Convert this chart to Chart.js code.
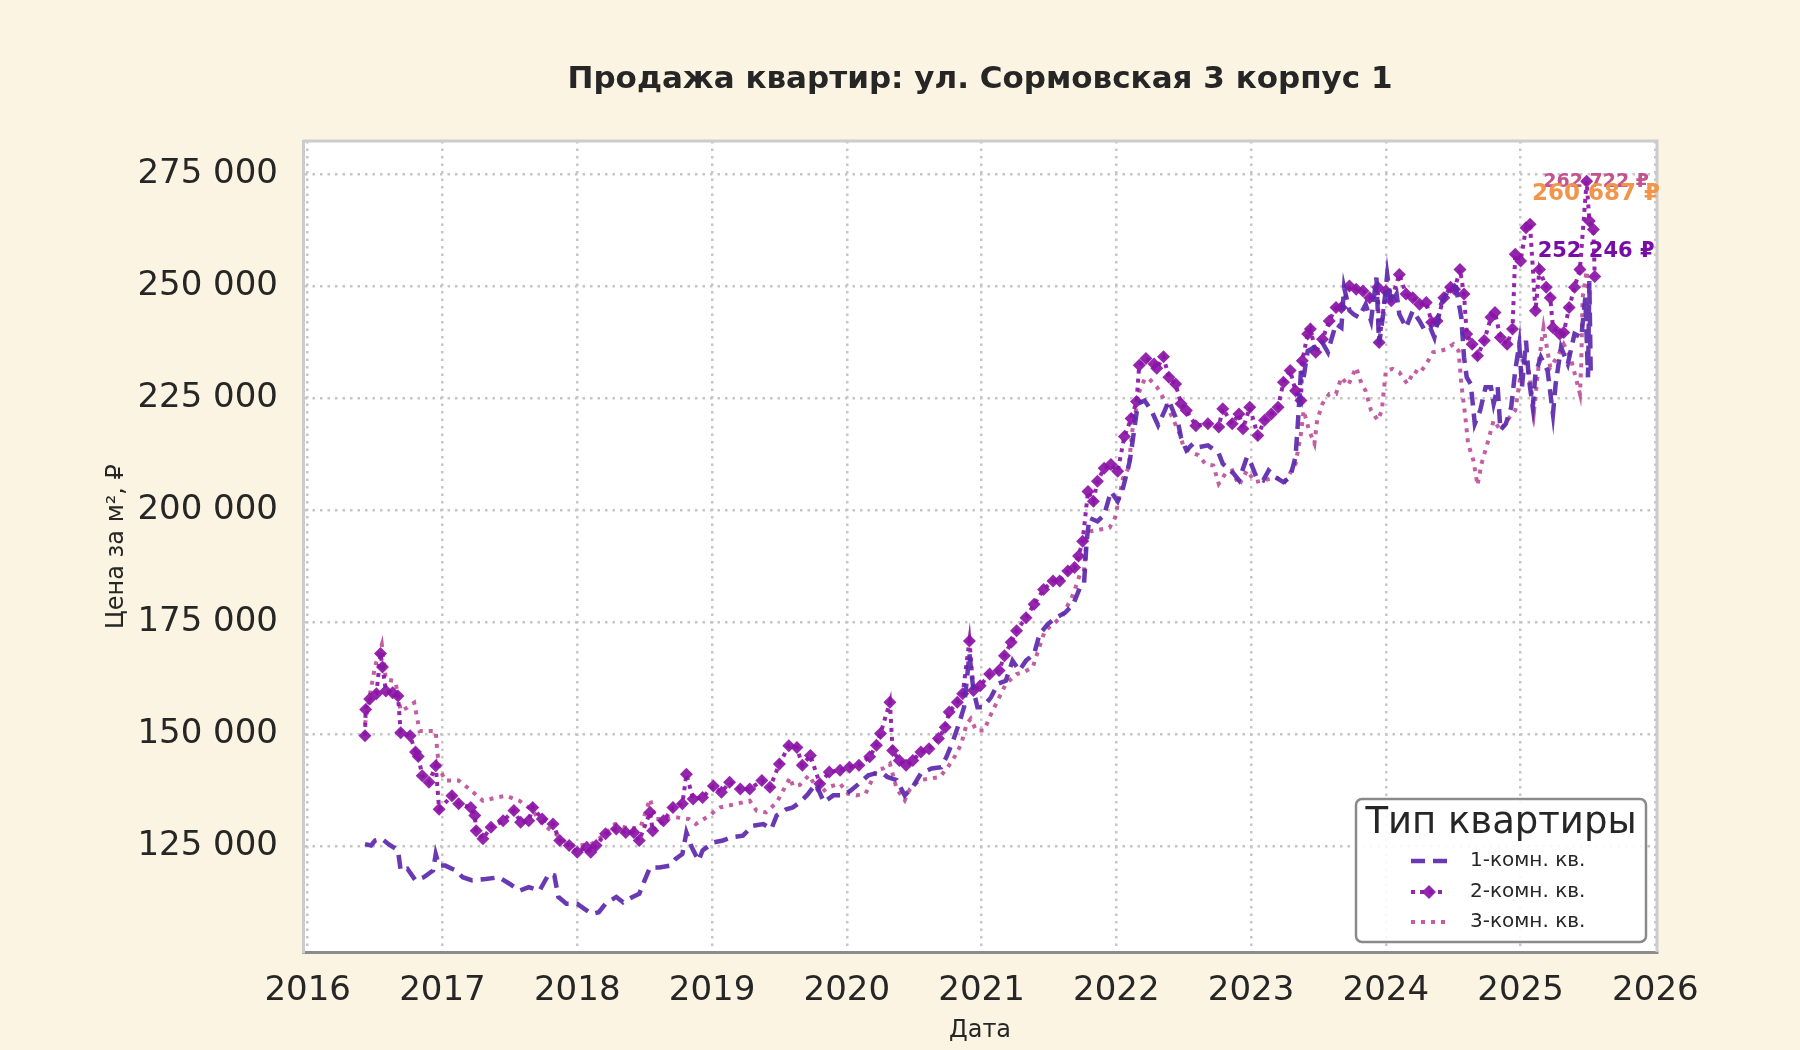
<!DOCTYPE html>
<html lang="ru">
<head>
<meta charset="utf-8">
<title>Продажа квартир: ул. Сормовская 3 корпус 1</title>
<script src="https://cdn.jsdelivr.net/npm/chart.js@4.4.1/dist/chart.umd.min.js"></script>
<style>
  html, body { margin:0; padding:0; background:#fbf4e2; }
  #wrap { width:1800px; height:1050px; position:relative; }
</style>
</head>
<body>
<div id="wrap"><canvas id="priceChart"></canvas></div>
<script>
// --- data (decimal year, руб/м²) ---
const years1 = [2016.425,2016.47,2016.50,2016.55,2016.60,2016.67,2016.69,2016.74,2016.80,2016.86,2016.93,2016.95,2016.975,
  2017.02,2017.10,2017.15,2017.22,2017.32,2017.42,2017.50,2017.57,2017.64,2017.72,2017.79,2017.83,2017.86,2017.92,
  2018.00,2018.05,2018.11,2018.16,2018.21,2018.29,2018.34,2018.41,2018.46,2018.50,2018.54,2018.61,2018.69,2018.73,2018.78,2018.81,2018.85,2018.90,2018.93,
  2019.01,2019.08,2019.14,2019.23,2019.30,2019.38,2019.44,2019.48,2019.55,2019.60,2019.65,2019.71,2019.77,2019.83,2019.90,2019.97,
  2020.03,2020.09,2020.16,2020.21,2020.27,2020.30,2020.37,2020.43,2020.49,2020.55,2020.63,2020.70,2020.74,2020.79,2020.84,2020.87,2020.91,2020.94,2020.97,
  2021.01,2021.07,2021.12,2021.18,2021.23,2021.28,2021.33,2021.39,2021.43,2021.49,2021.55,2021.62,2021.68,2021.73,2021.76,2021.78,2021.80,2021.86,2021.91,2021.96,
  2022.01,2022.05,2022.10,2022.16,2022.21,2022.26,2022.31,2022.36,2022.39,2022.46,2022.48,2022.52,2022.57,2022.61,2022.68,2022.76,2022.79,2022.83,2022.87,2022.91,2022.97,
  2023.00,2023.04,2023.09,2023.13,2023.18,2023.24,2023.29,2023.33,2023.35,2023.37,2023.39,2023.42,2023.47,2023.52,2023.57,2023.60,2023.63,2023.67,2023.69,2023.73,2023.76,2023.80,2023.85,2023.89,2023.93,2023.95,2023.98,
  2024.01,2024.04,2024.08,2024.10,2024.15,2024.20,2024.25,2024.29,2024.33,2024.36,2024.41,2024.46,2024.49,2024.52,2024.56,2024.58,2024.60,2024.63,2024.66,2024.70,2024.74,2024.78,2024.80,2024.83,2024.85,2024.89,2024.93,2024.96,2024.99,
  2025.01,2025.04,2025.06,2025.09,2025.11,2025.15,2025.20,2025.24,2025.26,2025.30,2025.35,2025.40,2025.45,2025.48,2025.50,2025.51,2025.52];
const price1 = [125400,125100,126200,126600,125400,124000,119500,119900,117300,118000,119500,123200,120600,
  120600,119500,118000,117300,117600,118000,116500,115000,115800,115000,118800,118400,113600,112100,
  112100,111000,109800,110200,112100,113600,112400,113600,114300,117300,120200,120200,120600,122100,123200,128000,124700,121700,124000,
  125800,126200,126900,127300,129500,129900,128800,131800,133200,133600,134700,136500,138900,134800,136300,136300,
  137400,138900,140800,141200,141200,140400,139700,136300,138200,141200,142300,142600,144900,148600,153000,156000,167900,159700,156000,
  156000,158200,161200,161900,166400,164200,166400,167900,172300,174500,176000,177100,179000,182700,183400,193100,198300,197500,199000,204200,
  202000,205000,211000,223800,224500,222300,219000,222300,224500,219300,216300,213400,214900,214100,214500,212700,210400,209300,208200,206700,211900,
  210400,207400,206700,208900,207400,206300,207400,211900,220800,231200,229700,235600,236400,237900,235300,238600,241600,240800,249800,244600,243800,243100,246000,242300,252000,237100,243800,
  252700,246000,248300,243800,240800,244600,242300,240100,240800,238600,246000,249000,249800,249800,243100,234200,229700,228200,219300,222300,227500,227500,223800,227500,217900,219300,223000,231200,237100,
  227500,237900,229700,223000,230500,234200,231200,221500,228200,236400,232700,239400,238600,247500,229700,251200,231000];

const years2 = [2016.425,2016.43,2016.46,2016.51,2016.54,2016.555,2016.58,2016.63,2016.67,2016.69,2016.76,2016.80,2016.82,2016.85,2016.90,2016.95,2016.975,
  2017.07,2017.12,2017.21,2017.24,2017.25,2017.30,2017.36,2017.45,2017.53,2017.58,2017.64,2017.67,2017.74,2017.82,2017.87,2017.94,
  2018.00,2018.07,2018.10,2018.14,2018.21,2018.29,2018.36,2018.42,2018.46,2018.54,2018.56,2018.64,2018.71,2018.78,2018.81,2018.86,2018.93,
  2019.01,2019.07,2019.13,2019.21,2019.28,2019.37,2019.43,2019.50,2019.57,2019.63,2019.67,2019.73,2019.80,2019.87,2019.95,
  2020.02,2020.09,2020.17,2020.22,2020.25,2020.32,2020.34,2020.39,2020.44,2020.49,2020.55,2020.61,2020.68,2020.73,2020.76,2020.82,2020.86,2020.91,2020.94,2020.99,
  2021.06,2021.13,2021.17,2021.22,2021.26,2021.33,2021.39,2021.46,2021.53,2021.58,2021.64,2021.69,2021.72,2021.75,2021.79,2021.83,2021.86,2021.91,2021.96,
  2022.01,2022.06,2022.11,2022.15,2022.17,2022.22,2022.28,2022.30,2022.35,2022.39,2022.44,2022.48,2022.52,2022.59,2022.68,2022.76,2022.79,2022.86,2022.91,2022.94,2022.99,
  2023.05,2023.10,2023.15,2023.20,2023.24,2023.29,2023.33,2023.37,2023.38,2023.42,2023.44,2023.48,2023.53,2023.58,2023.63,2023.67,2023.73,2023.78,2023.83,2023.88,2023.94,2023.95,
  2024.00,2024.04,2024.10,2024.15,2024.20,2024.25,2024.30,2024.34,2024.38,2024.43,2024.48,2024.51,2024.55,2024.58,2024.60,2024.64,2024.68,2024.73,2024.78,2024.81,2024.85,2024.90,2024.94,2024.96,
  2025.00,2025.04,2025.07,2025.11,2025.14,2025.19,2025.22,2025.24,2025.29,2025.32,2025.36,2025.40,2025.44,2025.49,2025.51,2025.54,2025.55];
const price2 = [149600,155500,157800,159000,168000,165000,159600,159200,158500,150300,149600,146000,145000,140700,139200,142900,133200,
  136200,134400,133600,131800,128400,126600,129200,130600,132900,130300,130600,133600,131000,129900,126200,125100,
  123600,124700,123600,125100,127700,128800,128000,128000,126200,132500,128400,130600,133600,134400,141000,135500,135800,
  138400,137000,139200,137700,137700,139600,138100,143300,147400,147000,143000,145200,138900,141500,141900,
  142600,143000,144900,147500,150100,157100,146300,144100,143000,144100,146000,146700,149000,151500,154900,157100,159000,170800,159700,160800,
  163400,164200,167500,170500,173100,176000,179000,182300,184200,184200,186400,187200,189800,193100,204200,202000,206500,209400,210200,
  208700,216500,220500,224300,232400,233900,232700,231700,234300,229700,228200,223800,222300,218900,219300,218600,222700,219300,221500,218200,223000,
  216700,220100,221500,223000,228600,231200,226700,224500,233400,239400,240500,235300,238200,242300,245300,245300,250100,249400,249000,247500,249800,237500,
  249000,246800,252700,248300,247500,246000,246400,242000,242300,247500,249800,249400,253800,248300,239400,237100,234500,237900,243100,244200,238600,237100,240500,257200,
  255700,263100,263900,244600,253800,249800,247500,240800,239400,239700,245300,249800,253800,273500,264600,262700,252200];

const years3 = [2016.425,2016.46,2016.50,2016.55,2016.58,2016.65,2016.69,2016.74,2016.79,2016.83,2016.88,2016.95,2016.96,2016.975,
  2017.02,2017.12,2017.20,2017.30,2017.40,2017.47,2017.57,2017.67,2017.74,2017.84,2017.94,
  2018.02,2018.11,2018.21,2018.28,2018.39,2018.47,2018.54,2018.58,2018.66,2018.73,2018.83,2018.88,2018.96,
  2019.06,2019.18,2019.28,2019.33,2019.40,2019.48,2019.58,2019.60,2019.65,2019.72,2019.80,2019.87,2019.95,
  2020.01,2020.07,2020.14,2020.22,2020.27,2020.32,2020.37,2020.43,2020.47,2020.54,2020.61,2020.69,2020.75,2020.80,2020.85,2020.89,2020.92,2020.96,
  2021.02,2021.06,2021.12,2021.18,2021.26,2021.31,2021.38,2021.42,2021.47,2021.53,2021.60,2021.68,2021.73,2021.76,2021.78,2021.81,2021.88,2021.95,2021.99,
  2022.02,2022.05,2022.09,2022.12,2022.17,2022.21,2022.24,2022.28,2022.30,2022.36,2022.42,2022.47,2022.50,2022.55,2022.61,2022.66,2022.72,2022.76,2022.81,2022.86,2022.91,2022.97,
  2023.03,2023.10,2023.18,2023.25,2023.33,2023.37,2023.39,2023.43,2023.47,2023.49,2023.53,2023.58,2023.63,2023.67,2023.72,2023.78,2023.82,2023.85,2023.89,2023.94,2023.97,
  2024.00,2024.05,2024.10,2024.16,2024.21,2024.25,2024.30,2024.35,2024.40,2024.45,2024.50,2024.54,2024.56,2024.59,2024.61,2024.65,2024.68,2024.71,2024.76,2024.80,2024.85,2024.90,2024.96,2024.99,
  2025.02,2025.06,2025.10,2025.14,2025.17,2025.22,2025.27,2025.32,2025.37,2025.44,2025.45,2025.46,2025.49,2025.50,2025.52];
const price3 = [152200,158500,165200,170000,162200,161800,155200,155900,157000,150700,150700,150700,146600,142500,
  139600,139600,137700,135100,135800,136200,135100,132900,129900,127700,125100,
  125100,125500,127700,129900,128800,129200,135500,131000,131000,131400,131000,129900,131400,
  133600,134400,135100,132900,132500,134700,140300,138400,138600,140800,136700,138200,138900,
  136700,136300,136700,141900,142300,143400,137800,135200,137800,139700,140000,140400,142600,144900,147800,152300,153400,150800,
  150800,153800,157500,161200,163400,163800,164900,168600,173100,174500,176400,181200,185700,186400,193800,195300,195700,196100,198300,
  202700,207200,209400,218000,226500,229300,229500,228200,227600,224500,220400,217100,214100,213000,212300,210400,210000,205900,208200,208900,205600,208900,
  206300,206700,207400,206300,210400,217100,222300,217900,214900,220100,223800,226000,226000,229700,227900,231900,228200,226700,222300,220100,222300,
  231200,231600,230800,228200,231200,230500,232700,235300,235600,236000,237100,235600,228200,220800,214900,211100,205600,210400,215600,220100,217900,220100,222300,228200,
  234200,231200,222300,234200,240800,231900,234200,237100,234200,226000,232700,247500,253500,249800,248300];

const seriesNames = ['1-комн. кв.', '2-комн. кв.', '3-комн. кв.'];
const yearTicks  = [2016,2017,2018,2019,2020,2021,2022,2023,2024,2025,2026];
const priceTicks = [125000,150000,175000,200000,225000,250000,275000];

// last-value callouts (text, anchor year, anchor price)
const calloutTexts  = ['262 722 ₽', '260 687 ₽', '252 246 ₽'];
const calloutYears  = [2025.56, 2025.56, 2025.56];
const calloutPrices = [273300, 270700, 257700];

const FONT = '"DejaVu Sans", "Liberation Sans", sans-serif';
const INK = '#262626';
const C1 = 'rgba(92,40,172,0.92)';
const C2 = 'rgba(139,20,166,0.92)';
const C3 = 'rgba(186,72,148,0.88)';
const calloutStyle = [
  { color: 'rgba(190,64,130,0.9)', size: 19 },
  { color: '#f0954a',              size: 23 },
  { color: '#7a0ca6',              size: 21 },
];

const toPoints = (xs, ys) => xs.map((x, i) => ({ x, y: ys[i] }));
const fmtPrice = v => String(v).replace(/\B(?=(\d{3})+(?!\d))/g, ' ');

// cream page, white plot area
const backdrop = {
  id: 'backdrop',
  beforeDraw(chart) {
    const { ctx, chartArea: a } = chart;
    ctx.save();
    ctx.fillStyle = '#fbf4e2';
    ctx.fillRect(0, 0, chart.width, chart.height);
    ctx.fillStyle = '#ffffff';
    ctx.fillRect(a.left, a.top, a.right - a.left, a.bottom - a.top);
    ctx.restore();
  }
};

// frame, title, callouts, legend box
const overlay = {
  id: 'overlay',
  afterDraw(chart) {
    const { ctx, chartArea: a, scales } = chart;
    ctx.save();

    // top + right spines
    ctx.strokeStyle = '#cccccc';
    ctx.lineWidth = 3;
    ctx.beginPath();
    ctx.moveTo(a.left, a.top);
    ctx.lineTo(a.right, a.top);
    ctx.lineTo(a.right, a.bottom);
    ctx.stroke();

    // title
    ctx.fillStyle = INK;
    ctx.font = 'bold 31px ' + FONT;
    ctx.textAlign = 'center';
    ctx.textBaseline = 'middle';
    ctx.fillText('Продажа квартир: ул. Сормовская 3 корпус 1', (a.left + a.right) / 2, 80);

    // callouts
    calloutTexts.forEach((t, i) => {
      ctx.font = 'bold ' + calloutStyle[i].size + 'px ' + FONT;
      ctx.fillStyle = calloutStyle[i].color;
      ctx.fillText(t, scales.x.getPixelForValue(calloutYears[i]), scales.y.getPixelForValue(calloutPrices[i]));
    });

    // legend
    const bx = 1356, by = 799, bw = 290, bh = 143;
    ctx.beginPath();
    ctx.roundRect(bx, by, bw, bh, 6);
    ctx.fillStyle = 'rgba(255,255,255,0.88)';
    ctx.fill();
    ctx.strokeStyle = '#8a8a8a';
    ctx.lineWidth = 2.5;
    ctx.stroke();

    ctx.fillStyle = INK;
    ctx.font = '37px ' + FONT;
    ctx.fillText('Тип квартиры', bx + bw / 2, 823);

    const rows = [861, 892, 922];
    const x0 = 1411, x1 = 1447;
    const styles = [
      { c: C1, dash: [14, 8], w: 4.5 },
      { c: C2, dash: [4, 5], w: 4 },
      { c: C3, dash: [4, 6], w: 4 },
    ];
    rows.forEach((ry, i) => {
      ctx.strokeStyle = styles[i].c;
      ctx.lineWidth = styles[i].w;
      ctx.setLineDash(styles[i].dash);
      ctx.beginPath();
      ctx.moveTo(x0, ry);
      ctx.lineTo(x1, ry);
      ctx.stroke();
      ctx.setLineDash([]);
      if (i === 1) {
        const cx = (x0 + x1) / 2;
        ctx.fillStyle = C2;
        ctx.beginPath();
        ctx.moveTo(cx, ry - 7);
        ctx.lineTo(cx + 7, ry);
        ctx.lineTo(cx, ry + 7);
        ctx.lineTo(cx - 7, ry);
        ctx.closePath();
        ctx.fill();
      }
      ctx.fillStyle = INK;
      ctx.font = '20px ' + FONT;
      ctx.textAlign = 'left';
      ctx.fillText(seriesNames[i], 1470, ry);
      ctx.textAlign = 'center';
    });

    ctx.restore();
  }
};

const gridOpts = { color: '#c6c6c6', lineWidth: 2.5, drawTicks: false };

new Chart(document.getElementById('priceChart'), {
  type: 'line',
  data: {
    datasets: [
      {
        label: seriesNames[0],
        data: toPoints(years1, price1),
        borderColor: C1,
        borderWidth: 4.5,
        borderDash: [14, 8],
        pointRadius: 0,
        tension: 0,
      },
      {
        label: seriesNames[1],
        data: toPoints(years2, price2),
        borderColor: C2,
        backgroundColor: C2,
        borderWidth: 4,
        borderDash: [4, 5],
        pointStyle: 'rectRot',
        pointRadius: 6.5,
        pointBorderWidth: 0,
        tension: 0,
      },
      {
        label: seriesNames[2],
        data: toPoints(years3, price3),
        borderColor: C3,
        borderWidth: 4,
        borderDash: [4, 6],
        pointRadius: 0,
        tension: 0,
      },
    ],
  },
  options: {
    responsive: true,
    maintainAspectRatio: false,
    animation: false,
    layout: { padding: { top: 141, right: 143, bottom: 0, left: 98 } },
    plugins: {
      legend:  { display: false },
      tooltip: { enabled: false },
    },
    scales: {
      x: {
        type: 'linear',
        min: 2015.965,
        max: 2026.012,
        afterBuildTicks: s => { s.ticks = yearTicks.map(v => ({ value: v })); },
        afterFit: s => { s.height = 98; },
        ticks: {
          color: INK,
          font: { family: FONT, size: 34 },
          padding: 19,
          maxRotation: 0,
          autoSkip: false,
          callback: v => String(v),
        },
        grid: gridOpts,
        border: { display: true, color: '#8c8c8c', width: 3, dash: [2.5, 5] },
        title: {
          display: true,
          text: 'Дата',
          color: INK,
          font: { family: FONT, size: 24 },
          padding: { top: 0, bottom: 5 },
        },
      },
      y: {
        type: 'linear',
        min: 101300,
        max: 282500,
        afterBuildTicks: s => { s.ticks = priceTicks.map(v => ({ value: v })); },
        afterFit: s => { s.width = 205; },
        ticks: {
          color: INK,
          font: { family: FONT, size: 34 },
          padding: 25,
          callback: v => fmtPrice(v),
        },
        grid: gridOpts,
        border: { display: true, color: '#cccccc', width: 3, dash: [2.5, 5] },
        title: {
          display: true,
          text: 'Цена за м², ₽',
          color: INK,
          font: { family: FONT, size: 24 },
          padding: { top: 4, bottom: 0 },
        },
      },
    },
  },
  plugins: [backdrop, overlay],
});
</script>
</body>
</html>
